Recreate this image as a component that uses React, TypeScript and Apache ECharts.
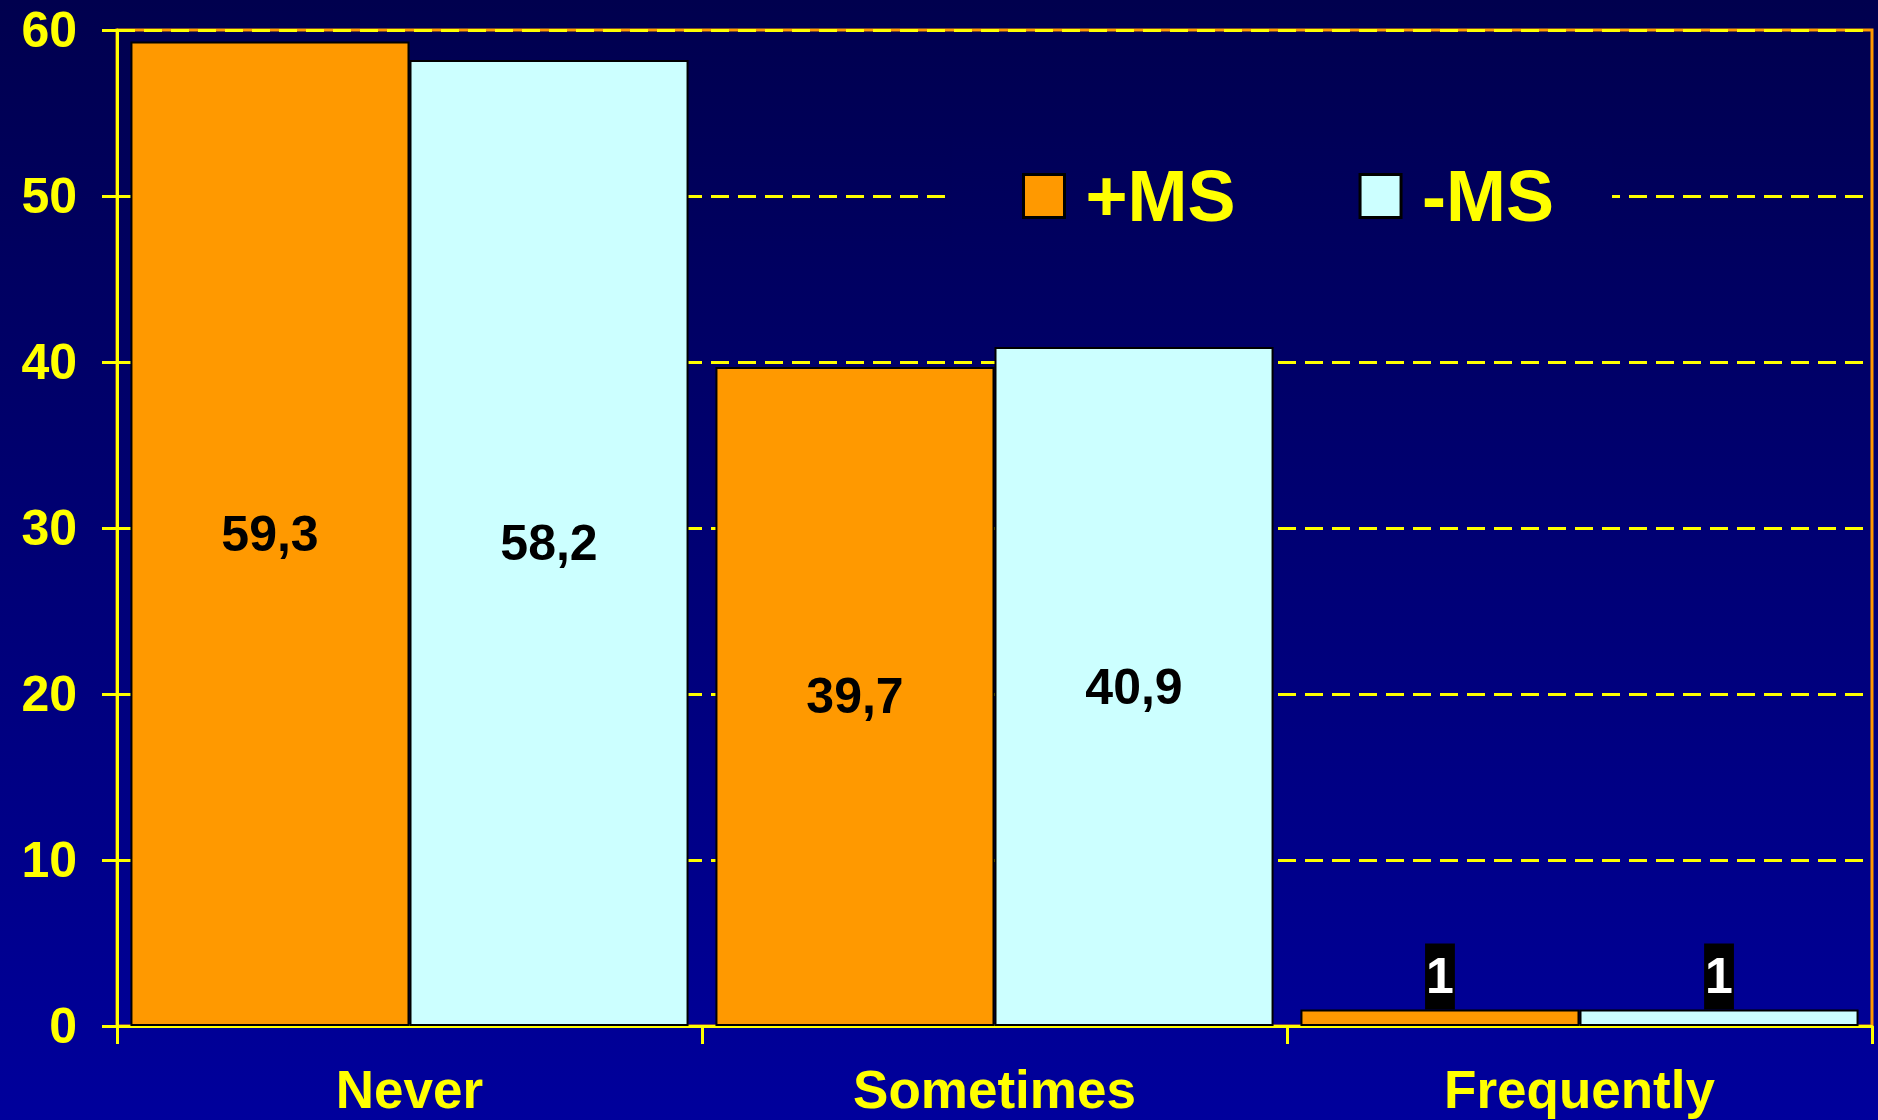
import React, { useEffect, useRef } from "react";
import * as echarts from "echarts";

const categories = ["Never", "Sometimes", "Frequently"];
const plusMS = [59.3, 39.7, 1];
const minusMS = [58.2, 40.9, 1];
const seriesNames = ["+MS", "-MS"];
const yTicks = { min: 0, max: 60, interval: 10 };

const FONT = "'Liberation Sans', Arial, sans-serif";
const YELLOW = "#FFFF00";
const ORANGE = "#FF9900";
const CYAN = "#CCFFFF";

const chartBg = {
  type: "linear",
  x: 0,
  y: 0,
  x2: 0,
  y2: 1,
  colorStops: [
    { offset: 0, color: "#00004E" },
    { offset: 1, color: "#00009C" },
  ],
};

// matches the chart gradient over the legend box's vertical span
const legendBg = {
  type: "linear",
  x: 0,
  y: 0,
  x2: 0,
  y2: 1,
  colorStops: [
    { offset: 0, color: "#000058" },
    { offset: 1, color: "#000060" },
  ],
};

const fmt = (v: number) => String(v).replace(".", ",");

const makeData = (vals: number[]) =>
  vals.map((v) =>
    v < 5
      ? {
          value: v,
          label: {
            position: "top",
            distance: 0,
            color: "#FFFFFF",
            backgroundColor: "#000000",
            padding: [8, 1],
          },
        }
      : { value: v }
  );

export default function App() {
  const ref = useRef<HTMLDivElement>(null);
  useEffect(() => {
    if (!ref.current) return;
    const chart = echarts.init(ref.current, undefined, { renderer: "svg" });
    const labelBase = {
      show: true,
      position: "inside",
      color: "#000000",
      fontSize: 50,
      fontWeight: "bold",
      fontFamily: FONT,
      formatter: (p: any) => fmt(p.value),
    };
    chart.setOption({
      animation: false,
      backgroundColor: chartBg,
      textStyle: { fontFamily: FONT },
      grid: {
        left: 117,
        right: 6,
        top: 30,
        bottom: 94,
        containLabel: false,
        show: true,
        borderColor: ORANGE,
        borderWidth: 3,
        backgroundColor: "transparent",
      },
      legend: {
        data: seriesNames,
        left: 952,
        top: 138,
        padding: [22, 58, 22, 70],
        itemWidth: 41,
        itemHeight: 43,
        itemGap: 123,
        icon: "rect",
        backgroundColor: legendBg,
        textStyle: {
          color: YELLOW,
          fontSize: 72,
          fontWeight: "bold",
          fontFamily: FONT,
          padding: [0, 0, 0, 16],
        },
        itemStyle: { borderColor: "#000000", borderWidth: 3 },
      },
      xAxis: {
        type: "category",
        data: categories,
        axisLine: { lineStyle: { color: YELLOW, width: 3 } },
        axisTick: {
          show: true,
          length: 18,
          interval: 0,
          alignWithLabel: false,
          lineStyle: { color: YELLOW, width: 3 },
        },
        axisLabel: {
          color: YELLOW,
          fontSize: 53,
          fontWeight: "bold",
          fontFamily: FONT,
          margin: 37,
          interval: 0,
        },
        splitLine: { show: false },
      },
      yAxis: {
        type: "value",
        min: yTicks.min,
        max: yTicks.max,
        interval: yTicks.interval,
        axisLine: { show: true, lineStyle: { color: YELLOW, width: 3 } },
        axisTick: { show: true, length: 15, lineStyle: { color: YELLOW, width: 3 } },
        axisLabel: {
          color: YELLOW,
          fontSize: 50,
          fontWeight: "bold",
          fontFamily: FONT,
          margin: 40,
        },
        splitLine: {
          show: true,
          lineStyle: { color: YELLOW, width: 3, type: [18, 9] },
        },
      },
      series: [
        {
          name: seriesNames[0],
          type: "bar",
          data: makeData(plusMS),
          barGap: "0%",
          barCategoryGap: "4.6%",
          itemStyle: { color: ORANGE, borderColor: "#000000", borderWidth: 2 },
          label: labelBase,
        },
        {
          name: seriesNames[1],
          type: "bar",
          data: makeData(minusMS),
          barGap: "0%",
          barCategoryGap: "4.6%",
          itemStyle: { color: CYAN, borderColor: "#000000", borderWidth: 2 },
          label: labelBase,
        },
      ],
    });
    return () => chart.dispose();
  }, []);
  return (
    <div
      ref={ref}
      style={{ position: "fixed", left: 0, top: 0, width: 1878, height: 1120 }}
    />
  );
}
